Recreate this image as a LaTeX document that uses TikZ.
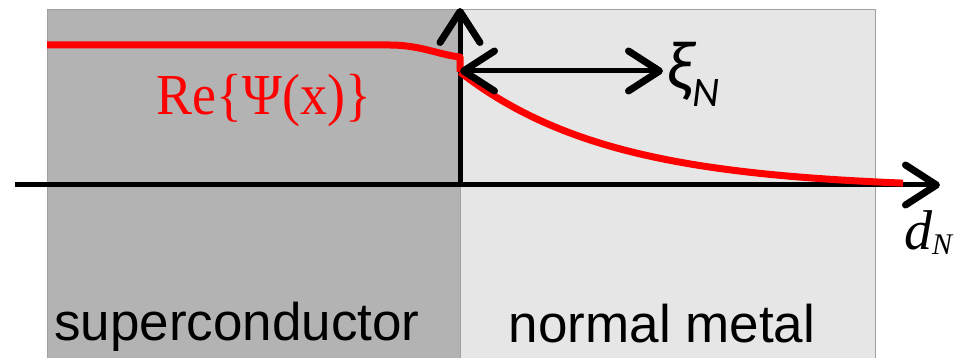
\documentclass[tikz,border=0pt]{standalone}
\usepackage{fontspec}
\usepackage{graphicx}
\setmainfont{Liberation Serif}
\setsansfont{Liberation Sans}
\newfontfamily\carl{Carlito}
\usetikzlibrary{arrows.meta}
\definecolor{scgray}{RGB}{179,179,179}
\definecolor{nmgray}{RGB}{230,230,230}
\definecolor{edgegray}{RGB}{160,160,160}
\begin{document}
\begin{tikzpicture}[x=1pt,y=-1pt,
  chev/.tip={Straight Barb[length=31pt,width=40pt,line width=7pt,round]},
  region/.style={draw=edgegray, line width=1pt, anchor=north west, inner sep=0pt},
  axis/.style={line width=5pt, -{chev}},
  both/.style={line width=5pt, {chev}-{chev}},
  wave/.style={red, line width=7pt, line join=round},
  lab/.style={font=\sffamily\fontsize{53}{60}\selectfont, anchor=base, text=black}]
\clip (0,0) rectangle (959,358);
\fill[white] (0,0) rectangle (959,358);
\node[region, fill=scgray, minimum width=413pt, minimum height=360pt] (sc) at (47,9) {};
\node[region, fill=nmgray, minimum width=415pt, minimum height=360pt] (nm) at (460,9) {};
\node[lab] (sclab) at (237,340) {superconductor};
\node[lab] (nmlab) at (662,342) {normal metal};
% axes
\coordinate (o) at (460,185);
\coordinate (xs) at (15,185);
\coordinate (xe) at (940,185);
\coordinate (ye) at (460,8);
\draw[axis] (xs) -- (xe);
\draw[axis] (o) -- (ye);
% wave function
\coordinate (w0) at (47,45);
\coordinate (w1) at (390,45);
\coordinate (w2) at (460,57);
\coordinate (w3) at (460,72);
\draw[wave] (w0) -- (w1) .. controls (420,45) and (440,55) .. (w2) -- (w3);
\draw[wave, line cap=butt] plot[domain=460:903, samples=80, smooth]
  (\x, {72 + 111*(1-exp(-(\x-460)/150))/(1-exp(-440/150))});
% coherence length arrow
\coordinate (a0) at (460,71);
\coordinate (a1) at (663,71);
\draw[both] (a0) -- (a1);
% labels
\node[anchor=base, text=red, font=\fontsize{58}{60}\selectfont, inner sep=0pt] (re) at (264,115)
  {\scalebox{0.93}[1]{Re\{Ψ(x)\}}};
\node[anchor=base west, inner sep=0pt, font=\carl\itshape\fontsize{70}{70}\selectfont] (xi) at (666,90)
  {ξ\raisebox{-17pt}{\fontsize{42}{42}\selectfont N}};
\node[anchor=base west, inner sep=0pt, font=\itshape\fontsize{56}{56}\selectfont] (dn) at (904,250)
  {d\raisebox{-5pt}{\fontsize{30}{30}\selectfont N}};
\end{tikzpicture}
\end{document}
